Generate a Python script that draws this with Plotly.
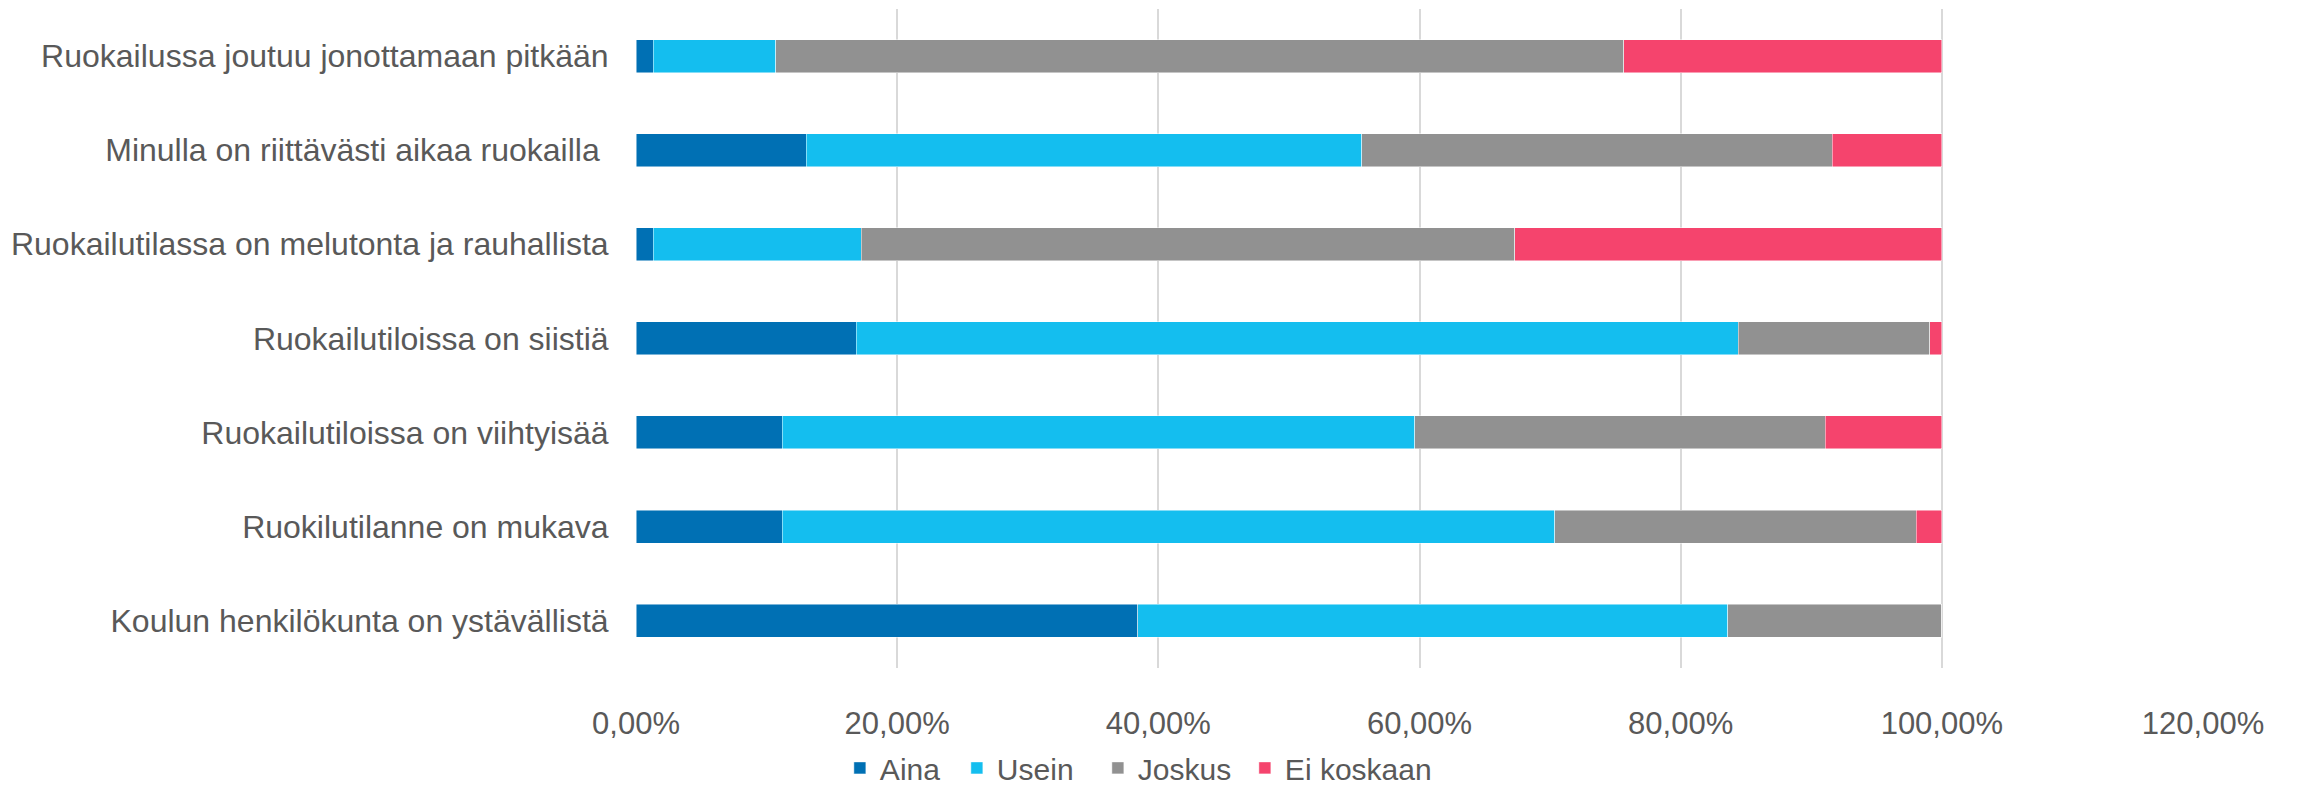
import plotly.graph_objects as go

categories = [
    "Ruokailussa joutuu jonottamaan pitkään",
    "Minulla on riittävästi aikaa ruokailla\u00a0",
    "Ruokailutilassa on melutonta ja rauhallista",
    "Ruokailutiloissa on siistiä",
    "Ruokailutiloissa on viihtyisää",
    "Ruokilutilanne on mukava",
    "Koulun henkilökunta on ystävällistä",
]

aina = [1.33, 13.04, 1.33, 16.87, 11.20, 11.20, 38.43]
usein = [9.37, 42.53, 15.93, 67.55, 48.45, 59.16, 45.16]
joskus = [64.96, 36.03, 50.04, 14.65, 31.43, 27.68, 16.41]
ei_koskaan = [24.34, 8.40, 32.70, 0.93, 8.92, 1.96, 0.0]

series_names = ["Aina", "Usein", "Joskus", "Ei koskaan"]
series_values = [aina, usein, joskus, ei_koskaan]
series_colors = ["#0070B4", "#14BEEF", "#919191", "#F5446D"]
legend_widths = [72, 96, 102, None]

tick_values = [0, 20, 40, 60, 80, 100, 120]
tick_labels = ["0,00%", "20,00%", "40,00%", "60,00%", "80,00%", "100,00%", "120,00%"]

FONT = "Liberation Sans, Arial, sans-serif"
TXT = "#595959"

fig = go.Figure()
for name, vals, col, lw in zip(series_names, series_values, series_colors, legend_widths):
    kw = {}
    if lw is not None:
        kw["legendwidth"] = lw
    fig.add_trace(go.Bar(
        y=categories, x=vals, name=name, orientation="h",
        marker=dict(color=col, line=dict(color="rgba(255,255,255,0.6)", width=0.8)),
        **kw,
    ))

fig.update_layout(
    width=2289, height=777,
    barmode="stack", bargap=0.65,
    plot_bgcolor="white", paper_bgcolor="white",
    margin=dict(l=628, r=94, t=1, b=112),
    font=dict(family=FONT, size=31, color=TXT),
    showlegend=True,
    legend=dict(
        orientation="h", traceorder="normal",
        xref="paper", x=0.1301, xanchor="left",
        yref="container", y=0.022, yanchor="middle",
        font=dict(family=FONT, size=30, color=TXT),
        itemwidth=30, tracegroupgap=0,
    ),
    xaxis=dict(
        range=[0, 120], tickvals=tick_values, ticktext=tick_labels,
        showgrid=True, gridcolor="#D9D9D9", gridwidth=1.5,
        zeroline=False, showline=False,
        ticks="outside", ticklen=28, tickcolor="rgba(0,0,0,0)",
        tickfont=dict(family=FONT, size=31, color=TXT),
        fixedrange=True,
    ),
    yaxis=dict(
        autorange="reversed", showgrid=False, zeroline=False, showline=False,
        ticks="outside", ticklen=20, tickcolor="rgba(0,0,0,0)",
        tickfont=dict(family=FONT, size=32, color=TXT),
    ),
)

fig.write_html("out.html")
